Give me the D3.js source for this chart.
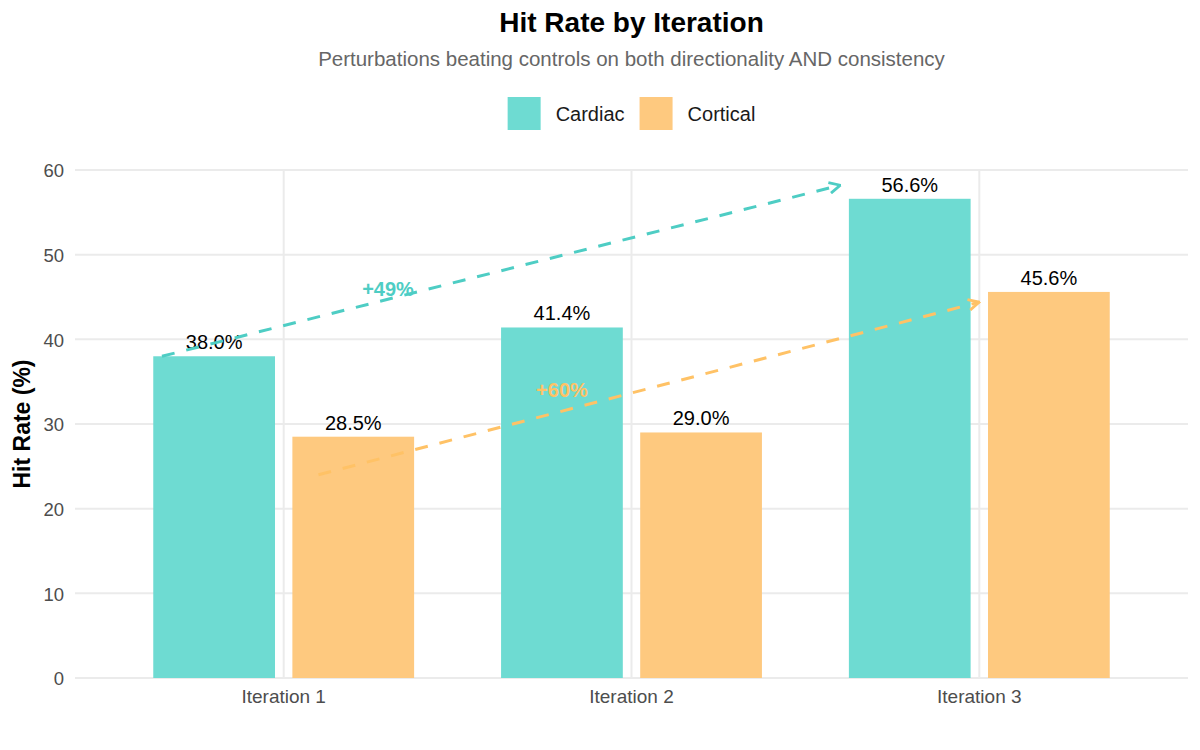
<!DOCTYPE html>
<html>
<head>
<meta charset="utf-8">
<script src="https://cdn.jsdelivr.net/npm/d3@7"></script>
<style>
  body { margin: 0; background: #fff; }
  #graf { width: 1200px; height: 750px; }
  text { font-family: 'Liberation Sans', Arial, sans-serif; }
</style>
</head>
<body>
<div id="graf"></div>
<script>
// datos
const iteraciones = ['Iteration 1', 'Iteration 2', 'Iteration 3']
const tejidos = ['Cardiac', 'Cortical']
const cardiac = [38.0, 41.4, 56.6]
const cortical = [28.5, 29.0, 45.6]
const yTicks = [0, 10, 20, 30, 40, 50, 60]

// flechas de tendencia (x en unidades de categoria, 1 = Iteration 1)
const trendLabels = ['+49%', '+60%']
const trendX0 = [0.65, 1.1]
const trendY0 = [38.0, 24.0]
const trendX1 = [2.6, 3.0]
const trendY1 = [58.2, 44.4]
const labelX = [1.3, 1.8]
const labelY = [46, 34]

const fills = ['#6edbd2', '#fec97f']
const lineColors = ['#4ecdc4', '#ffc266']

const anchoTotal = 1200
const altoTotal = 750

const svg = d3.select('#graf')
  .append('svg')
  .attr('width', anchoTotal)
  .attr('height', altoTotal)

const margin = { top: 170, bottom: 72, left: 75, right: 12 }
const ancho = anchoTotal - margin.left - margin.right
const alto = altoTotal - margin.top - margin.bottom

const g = svg.append('g')
  .attr('transform', `translate(${margin.left}, ${margin.top})`)

const y = d3.scaleLinear()
  .domain([0, 60])
  .range([alto, 0])

const x0 = d3.scaleBand()
  .domain(iteraciones)
  .range([0, ancho])
  .paddingInner(0)
  .paddingOuter(0.1)

const paso = x0.step()
const x1 = d3.scaleBand()
  .domain(tejidos)
  .range([-0.4 * paso, 0.4 * paso])
const anchoBarra = 0.35 * paso

// escala continua para las anotaciones
const xc = d3.scaleLinear()
  .domain([0.4, 3.6])
  .range([0, ancho])

const color = d3.scaleOrdinal().domain(tejidos).range(fills)

// grilla
g.append('g')
  .selectAll('line')
  .data(yTicks)
  .join('line')
    .attr('x1', 0)
    .attr('x2', ancho)
    .attr('y1', d => y(d))
    .attr('y2', d => y(d))
    .attr('stroke', '#ebebeb')
    .attr('stroke-width', 2)

g.append('g')
  .selectAll('line')
  .data(iteraciones)
  .join('line')
    .attr('x1', d => x0(d) + x0.bandwidth() / 2)
    .attr('x2', d => x0(d) + x0.bandwidth() / 2)
    .attr('y1', y(60) - 1)
    .attr('y2', alto)
    .attr('stroke', '#ebebeb')
    .attr('stroke-width', 2)

// ejes
const yAxisGroup = g.append('g')
  .call(d3.axisLeft(y).tickValues(yTicks).tickSize(0).tickPadding(11))
yAxisGroup.select('.domain').remove()
yAxisGroup.selectAll('text')
  .attr('fill', '#4d4d4d')
  .style('font-size', '18.5px')
  .attr('dy', '0.36em')

const xAxisGroup = g.append('g')
  .attr('transform', `translate(0, ${alto})`)
  .call(d3.axisBottom(x0).tickSize(0).tickPadding(12))
xAxisGroup.select('.domain').remove()
xAxisGroup.selectAll('text')
  .attr('fill', '#4d4d4d')
  .style('font-size', '19px')
  .attr('dy', '0.71em')

// barras
const filas = []
iteraciones.forEach((it, i) => {
  filas.push({ it, tejido: 'Cardiac', v: cardiac[i] })
  filas.push({ it, tejido: 'Cortical', v: cortical[i] })
})

const centroBarra = d => x0(d.it) + x0.bandwidth() / 2 + x1(d.tejido) + x1.bandwidth() / 2

g.append('g')
  .selectAll('rect')
  .data(filas)
  .join('rect')
    .attr('x', d => centroBarra(d) - anchoBarra / 2)
    .attr('y', d => y(d.v))
    .attr('width', anchoBarra)
    .attr('height', d => alto - y(d.v))
    .attr('fill', d => color(d.tejido))

g.append('g')
  .selectAll('text')
  .data(filas)
  .join('text')
    .attr('x', d => centroBarra(d))
    .attr('y', d => y(d.v) - 7)
    .attr('text-anchor', 'middle')
    .style('font-size', '20px')
    .attr('fill', '#000')
    .text(d => d.v.toFixed(1) + '%')

// etiquetas de tendencia
g.append('g')
  .selectAll('text')
  .data(trendLabels)
  .join('text')
    .attr('x', (d, i) => xc(labelX[i]))
    .attr('y', (d, i) => y(labelY[i]))
    .attr('dy', '0.36em')
    .attr('text-anchor', 'middle')
    .style('font-size', '20px')
    .style('font-weight', 'bold')
    .attr('fill', (d, i) => lineColors[i])
    .text(d => d)

// flechas
const defs = svg.append('defs')
lineColors.forEach((c, i) => {
  defs.append('marker')
    .attr('id', `flecha${i}`)
    .attr('viewBox', '0 0 12 12')
    .attr('refX', 11)
    .attr('refY', 6)
    .attr('markerWidth', 13)
    .attr('markerHeight', 13)
    .attr('markerUnits', 'userSpaceOnUse')
    .attr('orient', 'auto')
    .append('path')
      .attr('d', 'M1,1 L11,6 L1,11')
      .attr('fill', 'none')
      .attr('stroke', c)
      .attr('stroke-width', 2.6)
})

g.append('g')
  .selectAll('line')
  .data(trendLabels)
  .join('line')
    .attr('x1', (d, i) => xc(trendX0[i]))
    .attr('y1', (d, i) => y(trendY0[i]))
    .attr('x2', (d, i) => xc(trendX1[i]))
    .attr('y2', (d, i) => y(trendY1[i]))
    .attr('stroke', (d, i) => lineColors[i])
    .attr('stroke-width', 3)
    .attr('stroke-dasharray', '13,12')
    .attr('marker-end', (d, i) => `url(#flecha${i})`)

// titulos
const centro = margin.left + ancho / 2

svg.append('text')
  .attr('x', centro)
  .attr('y', 32)
  .attr('text-anchor', 'middle')
  .style('font-size', '28px')
  .style('font-weight', 'bold')
  .attr('fill', '#000')
  .text('Hit Rate by Iteration')

svg.append('text')
  .attr('x', centro)
  .attr('y', 66)
  .attr('text-anchor', 'middle')
  .style('font-size', '20.5px')
  .attr('fill', '#666')
  .text('Perturbations beating controls on both directionality AND consistency')

svg.append('text')
  .attr('transform', `translate(30, ${margin.top + alto / 2}) rotate(-90)`)
  .attr('text-anchor', 'middle')
  .style('font-size', '23px')
  .style('font-weight', 'bold')
  .attr('fill', '#000')
  .text('Hit Rate (%)')

// leyenda
const leyenda = svg.append('g')
const clave = 33
const items = leyenda.selectAll('g')
  .data(tejidos)
  .join('g')

items.append('rect')
  .attr('y', 97)
  .attr('width', clave)
  .attr('height', clave)
  .attr('fill', d => color(d))

items.append('text')
  .attr('x', clave + 15)
  .attr('y', 121)
  .style('font-size', '20px')
  .attr('fill', '#1a1a1a')
  .text(d => d)

// acomodar items uno al lado del otro y centrar
let offset = 0
items.each(function () {
  d3.select(this).attr('transform', `translate(${offset}, 0)`)
  offset += this.getBBox().width + 15
})
const anchoLeyenda = offset - 15
leyenda.attr('transform', `translate(${centro - anchoLeyenda / 2}, 0)`)
</script>
</body>
</html>
